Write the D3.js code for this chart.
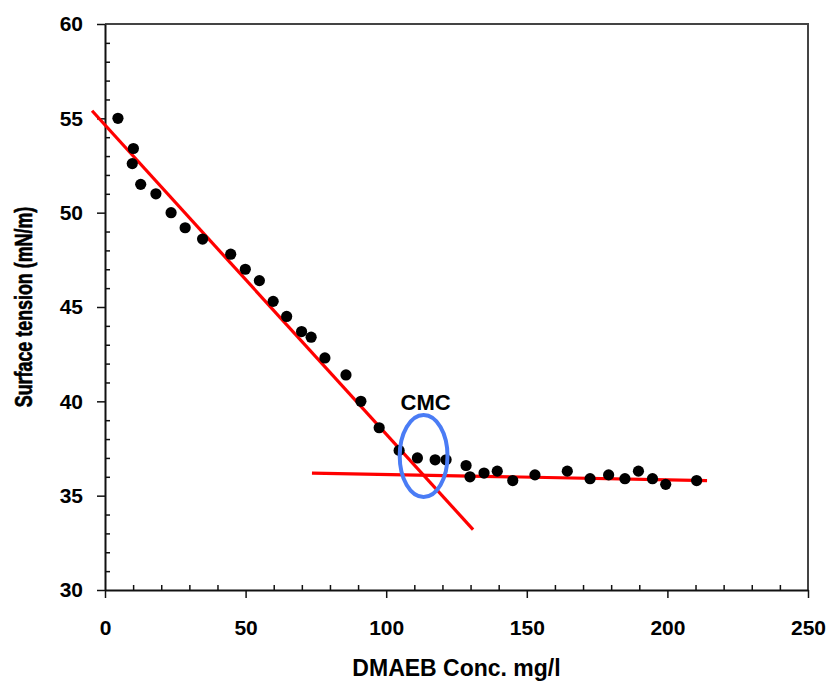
<!DOCTYPE html>
<html>
<head>
<meta charset="utf-8">
<script src="https://cdn.jsdelivr.net/npm/d3@7"></script>
<style>
  body { margin: 0; background: #fff; }
  text { font-family: Arial, "Liberation Sans", sans-serif; font-weight: bold; }
</style>
</head>
<body>
<script>
// measured points, DMAEB conc (mg/l) vs surface tension (mN/m)
var conc = [4.6, 10.1, 9.7, 12.7, 18.1, 23.5, 28.5, 34.7, 44.7, 49.9, 54.9, 59.8,
            64.6, 69.9, 73.3, 78.2, 85.7, 91.0, 97.5, 104.6, 111.1, 117.4, 121.3,
            128.4, 129.8, 134.8, 139.5, 145.0, 152.9, 164.4, 172.5, 179.1, 184.9,
            189.7, 194.7, 199.4, 210.4];
var tension = [55.0, 53.4, 52.6, 51.5, 51.0, 50.0, 49.2, 48.6, 47.8, 47.0, 46.4, 45.3,
               44.5, 43.7, 43.4, 42.3, 41.4, 40.0, 38.6, 37.4, 37.0, 36.9, 36.9,
               36.6, 36.0, 36.2, 36.3, 35.8, 36.1, 36.3, 35.9, 36.1, 35.9,
               36.3, 35.9, 35.6, 35.8];

// fitted lines [x1, y1, x2, y2]
var fitDecline = [-4.6, 55.4, 130.9, 33.2];
var fitPlateau = [73.6, 36.2, 214.1, 35.8];

// CMC marker (centre and radii in data units)
var cmcCenter = [113.3, 37.1];
var cmcRadius = [8.5, 2.17];

var xTicks = [0, 50, 100, 150, 200, 250];
var yTicks = [30, 35, 40, 45, 50, 55, 60];

var width = 829, height = 683;
var margin = {top: 24, right: 21, bottom: 93, left: 105};

var svg = d3.select("body").append("svg")
        .attr("width", width)
        .attr("height", height);

var x = d3.scaleLinear().domain([0, 250]).range([margin.left, width - margin.right]);
var y = d3.scaleLinear().domain([30, 60]).range([height - margin.bottom, margin.top]);

//frame (top and right)
svg.append("path")
        .attr("d", "M" + x(0) + "," + y(60) + "H" + x(250) + "V" + y(30))
        .attr("fill", "none")
        .attr("stroke", "#444")
        .attr("stroke-width", 2);

//minor ticks point inward, major ticks outward
var xMinor = d3.range(0, 251, 10).filter(function(d) { return d % 50 !== 0; });
var yMinor = d3.range(30, 61, 1).filter(function(d) { return d % 5 !== 0; });

svg.append("g")
        .attr("transform", "translate(0," + y(30) + ")")
        .call(d3.axisTop(x).tickValues(xMinor).tickSize(5).tickFormat(""))
        .call(function(g) { g.select(".domain").remove(); });

svg.append("g")
        .attr("transform", "translate(" + x(0) + ",0)")
        .call(d3.axisRight(y).tickValues(yMinor).tickSize(5).tickFormat(""))
        .call(function(g) { g.select(".domain").remove(); });

var xAxis = svg.append("g")
        .attr("transform", "translate(0," + y(30) + ")")
        .call(d3.axisBottom(x).tickValues(xTicks).tickSize(8).tickSizeOuter(0).tickPadding(22));

var yAxis = svg.append("g")
        .attr("transform", "translate(" + x(0) + ",0)")
        .call(d3.axisLeft(y).tickValues(yTicks).tickSize(8).tickSizeOuter(0).tickPadding(14));

svg.selectAll(".domain").attr("stroke", "#111").attr("stroke-width", 2);
svg.selectAll(".tick line").attr("stroke", "#111").attr("stroke-width", 1.5);
xAxis.selectAll(".tick text").attr("font-size", 21).attr("fill", "#000");
yAxis.selectAll(".tick text").attr("font-size", 21).attr("fill", "#000");

//fit lines
[fitDecline, fitPlateau].forEach(function(f) {
    svg.append("line")
            .attr("x1", x(f[0])).attr("y1", y(f[1]))
            .attr("x2", x(f[2])).attr("y2", y(f[3]))
            .attr("stroke", "#ff0000")
            .attr("stroke-width", 3.2);
});

//data points
svg.append("g")
        .selectAll("circle")
        .data(d3.zip(conc, tension))
        .enter().append("circle")
        .attr("cx", function(d) { return x(d[0]); })
        .attr("cy", function(d) { return y(d[1]); })
        .attr("r", 5.6)
        .attr("fill", "#000");

//CMC ellipse and label
svg.append("ellipse")
        .attr("cx", x(cmcCenter[0]))
        .attr("cy", y(cmcCenter[1]))
        .attr("rx", x(cmcRadius[0]) - x(0))
        .attr("ry", y(0) - y(cmcRadius[1]))
        .attr("fill", "none")
        .attr("stroke", "#4a7cf5")
        .attr("stroke-width", 4);

svg.append("text")
        .attr("x", x(cmcCenter[0]) + 2)
        .attr("y", y(cmcCenter[1]) - 46)
        .attr("text-anchor", "middle")
        .attr("font-size", 22)
        .text("CMC");

//axis titles
svg.append("text")
        .attr("x", (x(0) + x(250)) / 2)
        .attr("y", 676)
        .attr("text-anchor", "middle")
        .attr("font-size", 23)
        .text("DMAEB Conc. mg/l");

svg.append("text")
        .attr("transform", "translate(32," + ((y(30) + y(60)) / 2) + ") rotate(-90) scale(0.94,1.22)")
        .attr("text-anchor", "middle")
        .attr("font-size", 19)
        .attr("stroke", "#000")
        .attr("stroke-width", 0.5)
        .text("Surface tension (mN/m)");
</script>
</body>
</html>
